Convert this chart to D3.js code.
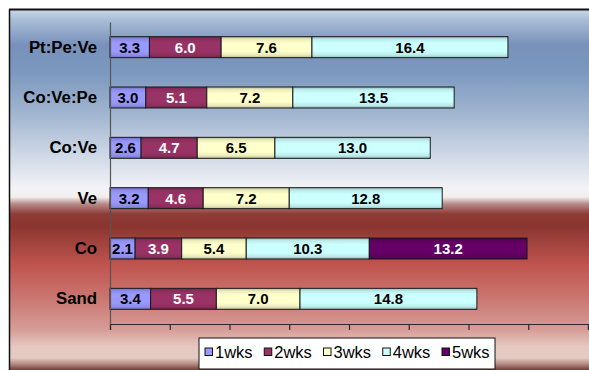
<!DOCTYPE html>
<html>
<head>
<meta charset="utf-8">
<script src="https://cdn.jsdelivr.net/npm/d3@7/dist/d3.min.js"></script>
<style>
  html, body { margin: 0; padding: 0; background: #fff; }
  svg { display: block; font-family: "Liberation Sans", Arial, sans-serif; }
</style>
</head>
<body>
<svg id="chart" width="589" height="370"></svg>
<script>
// Substrates (top to bottom) and weekly measurements per substrate
const categories = ["Pt:Pe:Ve", "Co:Ve:Pe", "Co:Ve", "Ve", "Co", "Sand"];
const seriesNames = ["1wks", "2wks", "3wks", "4wks", "5wks"];
const wk1 = [3.3, 3.0, 2.6, 3.2, 2.1, 3.4];
const wk2 = [6.0, 5.1, 4.7, 4.6, 3.9, 5.5];
const wk3 = [7.6, 7.2, 6.5, 7.2, 5.4, 7.0];
const wk4 = [16.4, 13.5, 13.0, 12.8, 10.3, 14.8];
const wk5 = [null, null, null, null, 13.2, null];
const xTicks = [0, 5, 10, 15, 20, 25, 30, 35, 40];

const seriesValues = [wk1, wk2, wk3, wk4, wk5];
const colors = ["#9999ff", "#993366", "#ffffcc", "#ccffff", "#660066"];
const labelColors = ["#000", "#fff", "#000", "#000", "#fff"];

const svg = d3.select("#chart");
const W = 589, H = 370;
const defs = svg.append("defs");

// Chart-area background: blue band on top, red band below
const bg = defs.append("linearGradient")
  .attr("id", "bg")
  .attr("gradientUnits", "userSpaceOnUse")
  .attr("x1", 0).attr("y1", 9).attr("x2", 0).attr("y2", 370);
const bgStops = [
  [9, "#cbd9e8"], [20, "#a9bdd7"], [45, "#7891ba"], [72, "#7c98bf"],
  [110, "#9db2ce"], [150, "#c9d4e3"], [188, "#f2f3f7"], [197, "#f4eeee"],
  [204, "#b68a88"], [214, "#8e3c37"], [226, "#8b3530"], [266, "#c1554f"],
  [300, "#cb7873"], [330, "#d79d98"], [346, "#e6c7c0"], [358, "#e3cbc4"],
  [364, "#b58a82"], [370, "#6e4038"]
];
bg.selectAll("stop").data(bgStops).join("stop")
  .attr("offset", d => (d[0] - 9) / (370 - 9))
  .attr("stop-color", d => d[1]);

svg.append("rect").attr("x", 9).attr("y", 9).attr("width", W).attr("height", H)
  .attr("fill", "url(#bg)");
svg.append("line").attr("x1", 9).attr("x2", W).attr("y1", 9.5).attr("y2", 9.5)
  .attr("stroke", "#111").attr("stroke-width", 2);
svg.append("line").attr("x1", 9.5).attr("x2", 9.5).attr("y1", 9).attr("y2", H)
  .attr("stroke", "#111").attr("stroke-width", 1.5);

// Shaded fill for each series: darker at the top and bottom edges
seriesNames.forEach((name, i) => {
  const c = d3.color(colors[i]);
  const g = defs.append("linearGradient").attr("id", "fill" + i)
    .attr("x1", 0).attr("y1", 0).attr("x2", 0).attr("y2", 1);
  const dark = c.darker(0.9).formatHex();
  const mid = c.darker(0.25).formatHex();
  [[0, dark], [0.12, mid], [0.3, c.formatHex()], [0.7, c.formatHex()], [0.88, mid], [1, dark]]
    .forEach(s => g.append("stop").attr("offset", s[0]).attr("stop-color", s[1]));
});

const x = d3.scaleLinear().domain([0, 40]).range([110, 588]);
const y = d3.scaleBand().domain(categories).range([22, 324])
  .paddingInner(0.583).paddingOuter(0.2915);

// Stack the weekly segments end to end along each row
const rows = categories.map((cat, r) => {
  let acc = 0;
  const segs = [];
  seriesValues.forEach((vals, s) => {
    const v = vals[r];
    if (v == null) return;
    segs.push({ cat, s, v, x0: acc, x1: acc + v });
    acc += v;
  });
  return segs;
}).flat();

const bars = svg.append("g");
bars.selectAll("rect").data(rows).join("rect")
  .attr("x", d => x(d.x0))
  .attr("y", d => y(d.cat))
  .attr("width", d => x(d.x1) - x(d.x0))
  .attr("height", y.bandwidth())
  .attr("fill", d => `url(#fill${d.s})`)
  .attr("stroke", "#1a1a1a").attr("stroke-width", 1);

bars.selectAll("text").data(rows).join("text")
  .attr("x", d => (x(d.x0) + x(d.x1)) / 2)
  .attr("y", d => y(d.cat) + y.bandwidth() / 2)
  .attr("dy", "0.36em")
  .attr("text-anchor", "middle")
  .attr("font-size", 15).attr("font-weight", "bold")
  .attr("fill", d => labelColors[d.s])
  .text(d => d.v.toFixed(1));

// Axes
const xAxis = svg.append("g").attr("transform", "translate(0,324)")
  .call(d3.axisBottom(x).tickValues(xTicks).tickSize(6).tickFormat(""));
xAxis.selectAll("path, line").attr("stroke", "#2a2a2a").attr("stroke-width", 1.2);

const yAxis = svg.append("g").attr("transform", "translate(110,0)")
  .call(d3.axisLeft(y).tickSize(0).tickPadding(13));
yAxis.select(".domain").attr("stroke", "#555").attr("stroke-width", 1.2);
yAxis.selectAll("text")
  .attr("font-size", 16.8).attr("font-weight", "bold").attr("fill", "#000")
  .attr("font-family", "Liberation Sans, Arial, sans-serif");

// Legend
const legend = svg.append("g");
legend.append("rect").attr("x", 199).attr("y", 338).attr("width", 296).attr("height", 31)
  .attr("fill", "#fff").attr("stroke", "#111").attr("stroke-width", 1);
const items = legend.selectAll("g.item").data(seriesNames).join("g")
  .attr("class", "item")
  .attr("transform", (d, i) => `translate(${215 + i * 59.25},0)`);
items.append("rect").attr("x", -10).attr("y", 348).attr("width", 7.5).attr("height", 7.5)
  .attr("fill", (d, i) => colors[i]).attr("stroke", "#111").attr("stroke-width", 1);
items.append("text").attr("x", 0).attr("y", 358)
  .attr("font-size", 16.5).attr("fill", "#000")
  .text(d => d);
</script>
</body>
</html>
